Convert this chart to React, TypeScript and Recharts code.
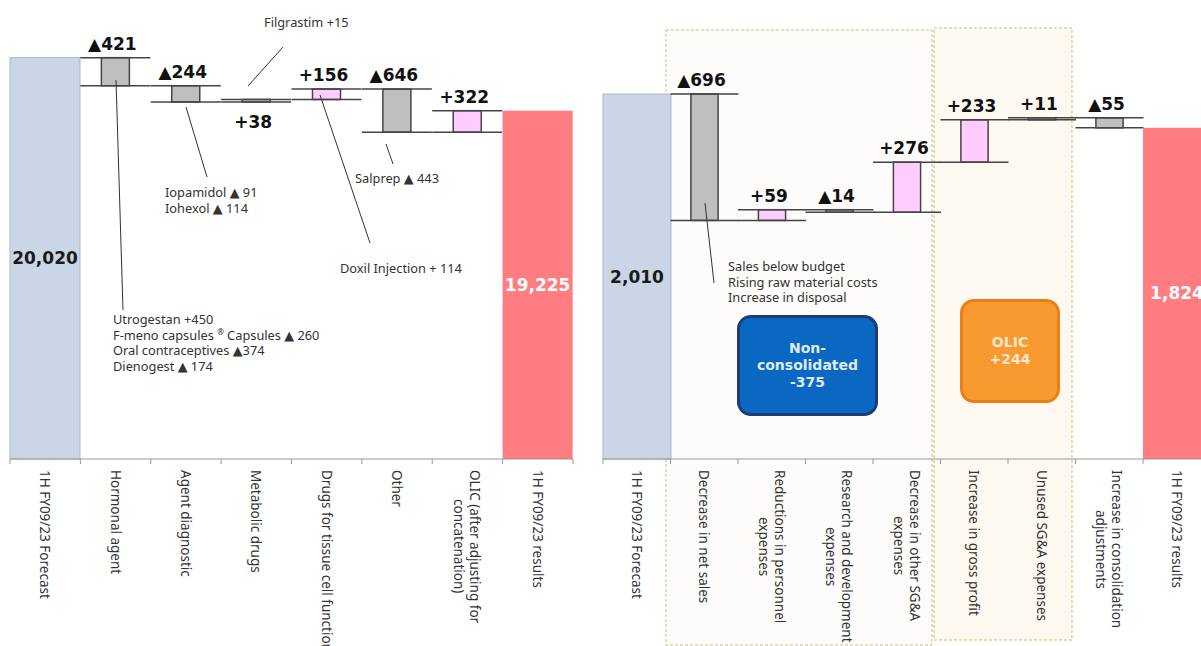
import { ComposedChart, Bar, XAxis, YAxis, LabelList, ReferenceArea } from "recharts"

const leftCategories = [
  "1H FY09/23 Forecast",
  "Hormonal agent",
  "Agent diagnostic",
  "Metabolic drugs",
  "Drugs for tissue cell functions",
  "Other",
  "OLIC (after adjusting for\nconcatenation)",
  "1H FY09/23 results",
]
const leftStart = 20020
const leftDeltas = [-421, -244, 38, 156, -646, 322]
const leftEnd = 19225
const leftLabelsBelow = ["Metabolic drugs"]

const rightCategories = [
  "1H FY09/23 Forecast",
  "Decrease in net sales",
  "Reductions in personnel\nexpenses",
  "Research and development\nexpenses",
  "Decrease in other SG&A\nexpenses",
  "Increase in gross profit",
  "Unused SG&A expenses",
  "Increase in consolidation\nadjustments",
  "1H FY09/23 results",
]
const rightStart = 2010
const rightDeltas = [-696, 59, -14, 276, 233, 11, -55]
const rightEnd = 1824

const COLORS = { start: "#c9d6e5", end: "#ff7c80", down: "#bfbfbf", up: "#ffccff", edge: "#454545" }
const LABEL_FONT = '"DejaVu Sans", Verdana, sans-serif'
const TEXT_FONT = '"Noto Sans", "DejaVu Sans", sans-serif'

type Row = { name: string; kind: string; range: number | number[]; label: string }

function buildRows(cats: string[], start: number, deltas: number[], end: number): Row[] {
  const rows: Row[] = [{ name: cats[0], kind: "start", range: start, label: start.toLocaleString("en-US") }]
  let level = start
  deltas.forEach((d, i) => {
    const next = level + d
    rows.push({
      name: cats[i + 1],
      kind: d < 0 ? "down" : "up",
      range: [Math.min(level, next), Math.max(level, next)],
      label: (d < 0 ? "▲" : "+") + Math.abs(d),
    })
    level = next
  })
  rows.push({ name: cats[cats.length - 1], kind: "end", range: end, label: end.toLocaleString("en-US") })
  return rows
}

const leftRows = buildRows(leftCategories, leftStart, leftDeltas, leftEnd)
const rightRows = buildRows(rightCategories, rightStart, rightDeltas, rightEnd)

function StepShape(props: any) {
  const { x, y, width, height } = props
  const kind = props.payload?.kind ?? props.kind
  if (kind === "start" || kind === "end") {
    return (
      <rect x={x} y={y} width={width} height={height} fill={COLORS[kind as "start"]}
        stroke={kind === "start" ? "#a9b5c2" : "none"} strokeWidth={1} />
    )
  }
  const bw = width * 0.4
  const bx = x + (width - bw) / 2
  return (
    <g>
      <rect x={bx} y={y} width={bw} height={Math.max(height, 1.5)} fill={COLORS[kind as "up"]}
        stroke={COLORS.edge} strokeWidth={1.5} />
      <line x1={x} x2={x + width} y1={y} y2={y} stroke={COLORS.edge} strokeWidth={1.5} />
      <line x1={x} x2={x + width} y1={y + height} y2={y + height} stroke={COLORS.edge} strokeWidth={1.5} />
    </g>
  )
}

function makeLabel(rows: Row[], below: string[]) {
  return (props: any) => {
    const vb = props.viewBox ?? props
    const row = rows[props.index]
    if (!row) return null
    const cx = vb.x + vb.width / 2
    if (row.kind === "start" || row.kind === "end") {
      return (
        <text x={cx} y={vb.y + vb.height / 2} textAnchor="middle" dominantBaseline="central"
          fontFamily={LABEL_FONT} fontWeight="bold" fontSize={17}
          fill={row.kind === "start" ? "#1a1a1a" : "#ffffff"}>{row.label}</text>
      )
    }
    const ty = below.includes(row.name) ? vb.y + vb.height + 26 : vb.y - 8
    return (
      <text x={cx - 3} y={ty} textAnchor="middle" fontFamily={LABEL_FONT} fontWeight="bold"
        fontSize={17} fill="#111">{row.label}</text>
    )
  }
}

function makeTick(bandWidth: number, count: number) {
  return (props: any) => {
    const { x, y, payload, index } = props
    const left = x - bandWidth / 2
    return (
      <g>
        <line x1={left} x2={left} y1={y} y2={y + 5} stroke="#999" />
        {index === count - 1 && <line x1={left + bandWidth} x2={left + bandWidth} y1={y} y2={y + 5} stroke="#999" />}
        <foreignObject x={x - 50} y={y + 11} width={100} height={190}>
          <div style={{ display: "flex", justifyContent: "center", alignItems: "flex-start", height: "100%" }}>
            <div style={{
              writingMode: "vertical-rl", textAlign: "center", whiteSpace: "pre",
              fontFamily: TEXT_FONT, fontSize: 13.5, lineHeight: "16px", color: "#333",
            }}>{payload.value}</div>
          </div>
        </foreignObject>
      </g>
    )
  }
}

function DashedBox(props: any) {
  const { x, y, width, height, dl, dr, top, bottom, fill } = props
  return (
    <rect x={x + dl} y={y + top} width={width - dl + dr} height={height - top + bottom}
      fill={fill} stroke="#c8c07a" strokeWidth={1} strokeDasharray="3 2" />
  )
}

function Annotations() {
  const t = { fontFamily: TEXT_FONT, fontSize: 12.8, fill: "#333" }
  const ln = { stroke: "#333", strokeWidth: 1 }
  return (
    <svg width={1201} height={646} style={{ position: "absolute", left: 0, top: 0, pointerEvents: "none" }}>
      <line x1={248} y1={86} x2={283} y2={47} {...ln} />
      <text x={264} y={27} {...t}>Filgrastim +15</text>
      <line x1={186} y1={107} x2={207} y2={177} {...ln} />
      <text x={165} y={197} {...t}>Iopamidol ▲ 91</text>
      <text x={165} y={213} {...t}>Iohexol ▲ 114</text>
      <line x1={116} y1={80} x2={123} y2={310} {...ln} />
      <text x={113} y={324} {...t}>Utrogestan +450</text>
      <text x={113} y={340} {...t}>F-meno capsules <tspan fontSize={8} baselineShift="super">®</tspan> Capsules ▲ 260</text>
      <text x={113} y={355} {...t}>Oral contraceptives ▲374</text>
      <text x={113} y={371} {...t}>Dienogest ▲ 174</text>
      <line x1={386} y1={144} x2={393} y2={164} {...ln} />
      <text x={355} y={183} {...t}>Salprep ▲ 443</text>
      <line x1={320} y1={95} x2={370} y2={243} {...ln} />
      <text x={340} y={273} {...t}>Doxil Injection + 114</text>
      <line x1={705} y1={203} x2={714} y2={283} {...ln} />
      <text x={728} y={271} {...t}>Sales below budget</text>
      <text x={728} y={287} {...t}>Rising raw material costs</text>
      <text x={728} y={302} {...t}>Increase in disposal</text>
    </svg>
  )
}

const boxText = { fontFamily: LABEL_FONT, fontWeight: "bold" as const, textAlign: "center" as const }

export default function App() {
  return (
    <div style={{ position: "absolute", left: 0, top: 0, width: 1201, height: 646, overflow: "hidden", background: "#fff" }}>
      <div style={{ position: "absolute", left: 0, top: 0 }}>
        <ComposedChart width={600} height={646} data={leftRows} barCategoryGap={0}
          margin={{ top: 0, right: 27, bottom: 0, left: 10 }}>
          <XAxis dataKey="name" interval={0} height={187} tickSize={0} tickMargin={0} tickLine={false}
            axisLine={{ stroke: "#999" }} tick={makeTick(563 / 8, leftRows.length)} />
          <YAxis hide domain={[14000, 20885]} />
          <Bar dataKey="range" isAnimationActive={false} shape={StepShape}>
            <LabelList dataKey="label" content={makeLabel(leftRows, leftLabelsBelow)} />
          </Bar>
        </ComposedChart>
      </div>
      <div style={{ position: "absolute", left: 593, top: 0 }}>
        <ComposedChart width={630} height={646} data={rightRows} barCategoryGap={0}
          margin={{ top: 0, right: 12.5, bottom: 0, left: 10 }}>
          <ReferenceArea x1={rightCategories[1]} x2={rightCategories[4]}
            shape={(p: any) => <DashedBox {...p} dl={-4.5} dr={-8.5} top={30} bottom={186} fill="#fdfcfa" />} />
          <ReferenceArea x1={rightCategories[5]} x2={rightCategories[6]}
            shape={(p: any) => <DashedBox {...p} dl={-6.5} dr={-3.5} top={28} bottom={181} fill="#fdf8f0" />} />
          <XAxis dataKey="name" interval={0} height={187} tickSize={0} tickMargin={0} tickLine={false}
            axisLine={{ stroke: "#999" }} tick={makeTick(67.5, rightRows.length)} />
          <YAxis hide domain={[0, 2528]} />
          <Bar dataKey="range" isAnimationActive={false} shape={StepShape}>
            <LabelList dataKey="label" content={makeLabel(rightRows, [])} />
          </Bar>
        </ComposedChart>
      </div>
      <Annotations />
      <div style={{
        position: "absolute", left: 737, top: 315, width: 135, height: 95, borderRadius: 14,
        border: "3px solid #1b3c78", background: "#0a68c2", display: "flex", alignItems: "center",
        justifyContent: "center", color: "#dfeaf7", fontSize: 14, lineHeight: "17px", ...boxText,
      }}>
        <div>Non-<br />consolidated<br />-375</div>
      </div>
      <div style={{
        position: "absolute", left: 960, top: 299, width: 94, height: 98, borderRadius: 14,
        border: "3px solid #e8801a", background: "#f89a30", display: "flex", alignItems: "center",
        justifyContent: "center", color: "#fde8cb", fontSize: 14, lineHeight: "17px", ...boxText,
      }}>
        <div>OLIC<br />+244</div>
      </div>
    </div>
  )
}
